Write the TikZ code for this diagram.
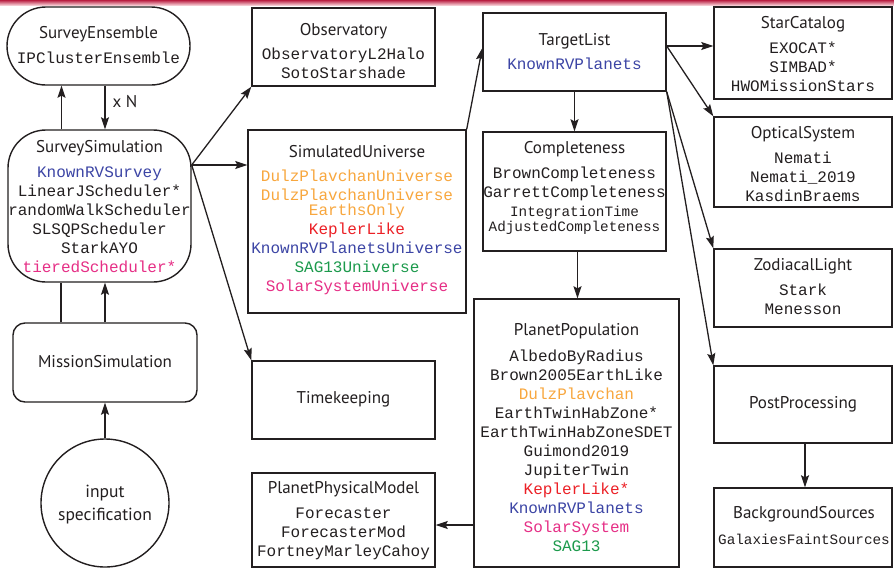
\documentclass[tikz,border=0pt]{standalone}
\usepackage{fontspec}
\setmainfont{PT Sans}
\setmonofont{Liberation Mono}
\usetikzlibrary{arrows.meta,calc}
\definecolor{ink}{HTML}{231F20}
\definecolor{kblue}{HTML}{3C45A5}
\definecolor{korange}{HTML}{F8A73E}
\definecolor{kred}{HTML}{EC2026}
\definecolor{kgreen}{HTML}{1C9A4C}
\definecolor{kmag}{HTML}{E62F86}
\newcommand{\titlef}{\fontsize{17}{21}\selectfont\rmfamily}
\newcommand{\smallmono}{\fontsize{14.3}{15}\selectfont\ttfamily}
\begin{document}
\begin{tikzpicture}[x=1pt,y=-1pt,
  box/.style={draw=ink, line width=1.4pt, inner sep=0pt, rectangle},
  content/.style={text=ink, inner sep=0pt, align=center, anchor=north,
                  font=\fontsize{16}{19}\selectfont\ttfamily},
  ttl/.style={text=ink, inner sep=0pt, align=center, font=\titlef},
  arr/.style={draw=ink, line width=1.3pt, -{Stealth[length=12pt,width=8pt,inset=2pt]}},
  ln/.style={draw=ink, line width=1.3pt}]
\clip (0,0) rectangle (894,568);
\fill[white] (0,0) rectangle (894,568);
\shade[top color={rgb,255:red,185;green,30;blue,65}, bottom color={rgb,255:red,245;green,200;blue,208}] (0,0) rectangle (894,5);

% ---- boxes ----
\node[box, rounded corners=39pt, minimum width=183pt, minimum height=78pt] (ens) at (98.5,46) {};
\node[box, rounded corners=38pt, minimum width=183pt, minimum height=152pt] (sim) at (99.5,206) {};
\node[box, rounded corners=12pt, minimum width=184pt, minimum height=79pt] (mis) at (105,362.5) {};
\node[box, circle, minimum size=128pt] (inp) at (105,503) {};
\node[box, minimum width=183pt, minimum height=78pt] (obs) at (343.5,47) {};
\node[box, minimum width=218pt, minimum height=183pt] (su) at (357,221.5) {};
\node[box, minimum width=183pt, minimum height=78pt] (tk) at (343.5,400) {};
\node[box, minimum width=183pt, minimum height=94pt] (ppm) at (343.5,520) {};
\node[box, minimum width=183pt, minimum height=78pt] (tl) at (574.5,52) {};
\node[box, minimum width=183pt, minimum height=119pt] (comp) at (574.5,191.5) {};
\node[box, minimum width=205pt, minimum height=268pt] (pop) at (576.5,433) {};
\node[box, minimum width=178pt, minimum height=92pt] (sc) at (803,53) {};
\node[box, minimum width=178pt, minimum height=90pt] (os) at (803,162) {};
\node[box, minimum width=178pt, minimum height=78pt] (zl) at (803,288) {};
\node[box, minimum width=178pt, minimum height=77pt] (pp) at (803,404.5) {};
\node[box, minimum width=178pt, minimum height=79pt] (bg) at (803,527.5) {};

% ---- texts ----
\node[content] (ensT) at (98.5,26) {{\titlef SurveyEnsemble}\\[6pt]IPClusterEnsemble};
\node[content] (simT) at (99.5,140) {{\titlef SurveySimulation}\\[6pt]
  \textcolor{kblue}{KnownRVSurvey}\\LinearJScheduler*\\randomWalkScheduler\\SLSQPScheduler\\StarkAYO\\\textcolor{kmag}{tieredScheduler*}};
\node[ttl] (misT) at (105,362) {MissionSimulation};
\node[ttl, font=\fontsize{17.5}{23}\selectfont] (inpT) at (105,505) {input\\specification};
\node[ttl, font=\fontsize{17}{20}\selectfont] (xn) at (125,102) {x N};
\node[content] (obsT) at (343.5,23) {{\titlef Observatory}\\[5pt]ObservatoryL2Halo\\SotoStarshade};
\node[content] (suT) at (357,145) {{\titlef SimulatedUniverse}\\[5pt]
  \textcolor{korange}{DulzPlavchanUniverse}\\\textcolor{korange}{DulzPlavchanUniverse}\\[-4pt]\textcolor{korange}{EarthsOnly}\\
  \textcolor{kred}{KeplerLike}\\\textcolor{kblue}{KnownRVPlanetsUniverse}\\\textcolor{kgreen}{SAG13Universe}\\\textcolor{kmag}{SolarSystemUniverse}};
\node[ttl] (tkT) at (343.5,399) {Timekeeping};
\node[content] (ppmT) at (343.5,481) {{\titlef PlanetPhysicalModel}\\[6pt]Forecaster\\ForecasterMod\\FortneyMarleyCahoy};
\node[content] (tlT) at (574.5,33) {{\titlef TargetList}\\[5pt]\textcolor{kblue}{KnownRVPlanets}};
\node[content] (compT) at (574.5,141) {{\titlef Completeness}\\[6pt]BrownCompleteness\\GarrettCompleteness\\
  {\smallmono IntegrationTime}\\[-4pt]{\smallmono AdjustedCompleteness}};
\node[content] (popT) at (576.5,323) {{\titlef PlanetPopulation}\\[7pt]AlbedoByRadius\\Brown2005EarthLike\\
  \textcolor{korange}{DulzPlavchan}\\EarthTwinHabZone*\\EarthTwinHabZoneSDET\\Guimond2019\\JupiterTwin\\
  \textcolor{kred}{KeplerLike*}\\\textcolor{kblue}{KnownRVPlanets}\\\textcolor{kmag}{SolarSystem}\\\textcolor{kgreen}{SAG13}};
\node[content] (scT) at (803,16) {{\titlef StarCatalog}\\[6pt]EXOCAT*\\SIMBAD*\\HWOMissionStars};
\node[content] (osT) at (803,126) {{\titlef OpticalSystem}\\[6pt]Nemati\\Nemati\_2019\\KasdinBraems};
\node[content] (zlT) at (803,258) {{\titlef ZodiacalLight}\\[6pt]Stark\\Menesson};
\node[ttl] (ppT) at (803,404) {PostProcessing};
\node[content] (bgT) at (804,506) {{\titlef BackgroundSources}\\[7pt]{\smallmono GalaxiesFaintSources}};

% ---- connectors ----
\draw[arr] ([xshift=-38pt]sim.north) -- ([xshift=-38pt]sim.north |- ens.south);
\draw[arr] ([xshift=6.5pt]ens.south) -- ([xshift=6.5pt]ens.south |- sim.north);
\draw[ln] ([xshift=-44pt]mis.north) -- ([xshift=-44pt]mis.north |- sim.south);
\draw[arr] (mis.north) -- (mis.north |- sim.south);
\draw[arr] (inp.north) -- (mis.south);
\coordinate (simR) at ([yshift=41pt]sim.east);
\draw[arr] (simR) -- (obs.south west);
\draw[arr] (simR) -- (simR -| su.west);
\draw[arr] (simR) -- (tk.north west);
\draw[arr] (su.north east) -- ([yshift=4pt]tl.west);
\draw[arr] (tl.south) -- (comp.north);
\draw[arr] ([xshift=3pt]comp.south) -- ([xshift=3pt]comp.south |- pop.north);
\coordinate (popL) at ([yshift=-92pt]pop.west);
\draw[arr] (popL) -- (popL -| ppm.east);
\coordinate (tlR) at ([yshift=6pt]tl.east);
\draw[arr] (tlR) -- (tlR -| sc.west);
\draw[arr] (tlR) -- (os.north west);
\draw[arr] (tl.south east) -- (zl.north west);
\draw[arr] (tl.south east) -- (pp.north west);
\draw[arr] ([xshift=2pt]pp.south) -- ([xshift=2pt]pp.south |- bg.north);
\end{tikzpicture}
\end{document}
